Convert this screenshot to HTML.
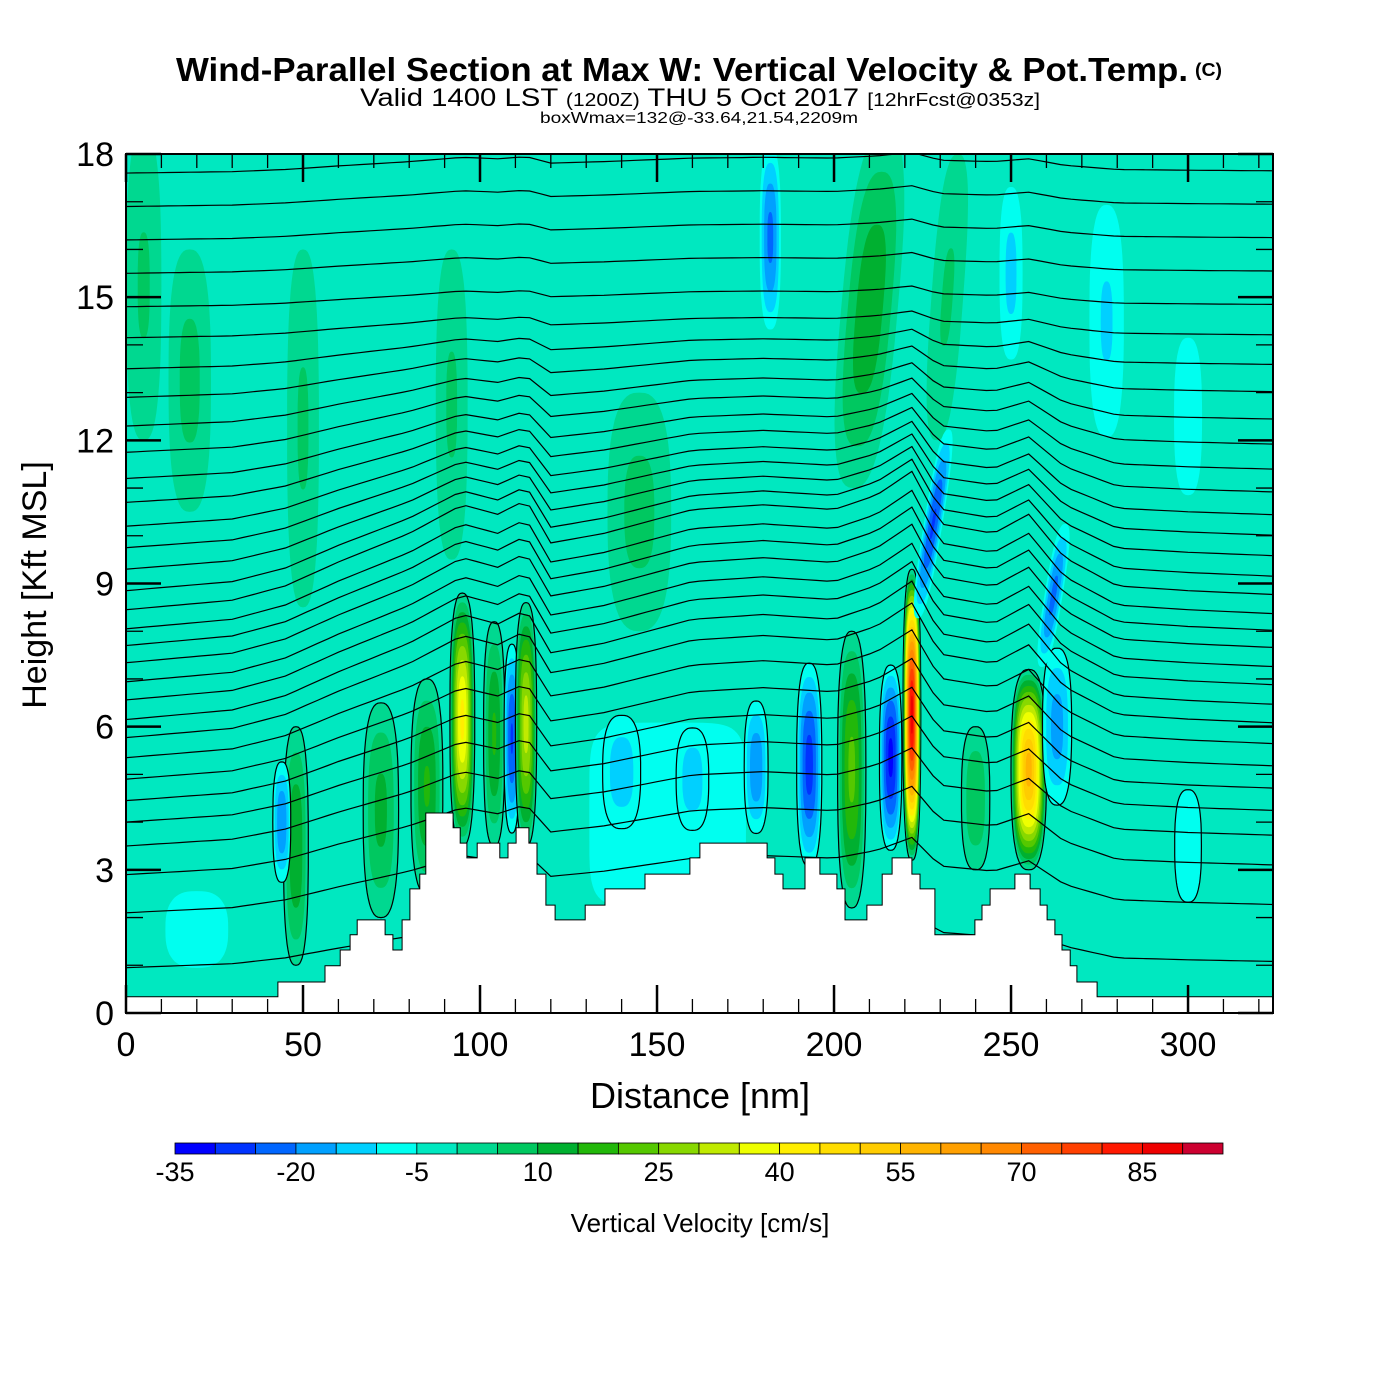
<!DOCTYPE html>
<html><head><meta charset="utf-8"><style>
html,body{margin:0;padding:0;background:#fff;}
svg{display:block;font-family:"Liberation Sans",sans-serif;}
</style></head><body>
<svg id="chart" width="1400" height="1400" viewBox="0 0 1400 1400" xmlns="http://www.w3.org/2000/svg">
<defs><clipPath id="pc"><rect x="126" y="154" width="1147" height="859"/></clipPath></defs>
<text x="176" y="81" font-size="33" font-weight="bold" textLength="1012" lengthAdjust="spacingAndGlyphs">Wind-Parallel Section at Max W: Vertical Velocity &amp; Pot.Temp.</text>
<text x="1195" y="76" font-size="18" font-weight="bold" textLength="27" lengthAdjust="spacingAndGlyphs">(C)</text>
<text x="360" y="106" font-size="25" textLength="680" lengthAdjust="spacingAndGlyphs">Valid 1400 LST <tspan font-size="18">(1200Z)</tspan> THU 5 Oct 2017 <tspan font-size="18">[12hrFcst@0353z]</tspan></text>
<text x="540" y="123" font-size="16" textLength="318" lengthAdjust="spacingAndGlyphs">boxWmax=132@-33.64,21.54,2209m</text>
<g id="plot" clip-path="url(#pc)"></g>
<g id="axes"></g>
<g id="cbar"></g>
<text x="700" y="1108" font-size="36" text-anchor="middle">Distance [nm]</text>
<text transform="translate(46,585) rotate(-90)" font-size="34" text-anchor="middle">Height [Kft MSL]</text>
<text x="700" y="1232" font-size="26" text-anchor="middle">Vertical Velocity [cm/s]</text>
</svg>
<script>
// ---- data ----
const cbLevels=[-35,-30,-25,-20,-15,-10,-5,0,5,10,15,20,25,30,35,40,45,50,55,60,65,70,75,80,85,90];
const cbColors=['#0000ff','#0033ff','#0066ff','#00a0ff','#00d0ff','#00fff0','#00e8c0','#00d890','#00c860','#00b030','#22b80a','#55c800','#88d800','#c0ea00','#eeff00','#ffee00','#ffdd00','#ffcc00','#ffb400','#ffa000','#ff8800','#ff6000','#ff4000','#ff1800','#ee0000','#cc0030'];
const cbTicks=[-35,-20,-5,10,25,40,55,70,85];
const xTicks=[0,50,100,150,200,250,300];
const yTicks=[0,3,6,9,12,15,18];
// terrain step function (nm edges, kft heights)
const terrX=[0,42.9,56.2,60.5,63.3,65.3,73.2,75.4,78,80.2,83,84.7,92.4,94.4,96.3,99.2,105.6,107.9,110.2,113.8,116.1,118.6,121.2,129.7,135.3,146.6,159.3,162.1,181.1,183.3,185.6,191.8,196,200.8,203.1,209.3,213.6,216.4,222,224.3,228.5,239.8,241.8,244.1,251.1,255.4,258.2,260.2,262.4,264.4,266.7,268.6,274.3,330];
const terrH=[0.34,0.65,0.99,1.32,1.64,1.95,1.64,1.32,1.95,2.6,2.91,4.19,3.88,3.56,3.25,3.56,3.25,3.56,3.88,3.56,2.91,2.26,1.95,2.26,2.6,2.91,3.25,3.56,3.25,2.91,2.6,3.25,2.91,2.6,1.95,2.26,2.91,3.25,2.91,2.6,1.64,1.95,2.26,2.6,2.91,2.6,2.26,1.95,1.64,1.32,0.99,0.65,0.34];
// vertical velocity cells: centre nm, half-width nm, bottom kft, top kft, peak cm/s, tilt nm/kft
const cellX=[153,20,5,18,50,92,145,210,182,232,250,277,300,48,44,72,85,140,160,178,95,104,109,113,193,205,216,222,255,263,228,262,300,240];
const cellW=[36,16,5,6,4.5,4.5,9,8,3.5,4.5,4.5,7,6,3.5,3,5,4.5,7,6,4,3.5,3,2.5,3,4,4,3.5,2.5,5,5,3,3,8,4];
const cellB=[1,0.3,12,10.5,8.5,9.5,8,11,14,12,13,11,10,1,2.5,2,2.5,3.5,3.5,3.5,3.5,3.5,3.5,3.5,2.8,2.2,3.2,3.2,3,4,8,7,1,3];
const cellT=[7.3,3.2,18.5,16,16,16,13,18.5,18.5,18,18,18,15,6,5.5,6.5,7,6.6,6.3,6.8,8.8,8.2,8,8.6,7.6,8,7.5,9.3,7.2,8,12.5,10.5,6,6];
const cellV=[-9,-8,6,7,6,6,7,14,-22,6,-12,-11,-10,15,-20,12,16,-14,-14,-20,42,16,-26,33,-28,22,-32,88,58,-18,-26,-22,-7,10];
const cellTilt=[0,0,0,0,0,0,0,1.2,0,1,0,0,0,0,0,0,0,0,0,0,0,0,0,0,0,0,0,0,0,0,2.2,2.2,0,0];
// potential-temperature contours: height at left edge, and displacement profile
const thetaBase=[0.95,2.1,2.9,3.5,4.0,4.45,4.9,5.35,5.77,6.15,6.56,6.94,7.34,7.7,8.05,8.45,8.85,9.3,9.75,10.2,10.7,11.2,11.75,12.3,12.9,13.5,14.15,14.8,15.5,16.2,16.9,17.6,18.3];
const dispX=[0,30,45,60,80,95,105,113,120,135,160,180,200,212,222,230,245,255,265,280,300,330];
const dispD=[0,0.2,0.5,1.0,1.6,2.2,2.0,2.3,1.4,1.6,2.1,2.2,2.1,2.4,2.9,1.8,1.6,2.0,1.1,0.5,0.4,0.3];

// ---- axes functions ----
const X0=126,X1=1273,Y0=1013,Y1=154,XMAX=324,YMAX=18;
const sx=d=>X0+d/XMAX*(X1-X0);
const sy=h=>Y0-h/YMAX*(Y0-Y1);
const NS='http://www.w3.org/2000/svg';
function mk(tag,attrs,parent){const e=document.createElementNS(NS,tag);for(const k in attrs)e.setAttribute(k,attrs[k]);parent.appendChild(e);return e;}
function colorFor(v){let i=Math.floor((v+35)/5);i=Math.max(0,Math.min(cbColors.length-1,i));return cbColors[i];}
const sp=(t,e)=>Math.sign(t)*Math.pow(Math.abs(t),e);

const plot=document.getElementById('plot');
const bg=mk('rect',{x:X0,y:Y1,width:X1-X0,height:Y0-Y1,fill:cbColors[6]},plot);



// cells
for(let c=0;c<cellX.length;c++){
  const p=cellV[c];const zc=(cellB[c]+cellT[c])/2,hz=(cellT[c]-cellB[c])/2;
  const bands=[];
  if(p>0){for(let L=0;L<p;L+=5)bands.push(L);}else{for(let U=-5;U>p;U-=5)bands.push(U);}
  const g=mk('g',{},plot);
  
  
  const ex=c===0?0.35:0.75;
  bands.forEach((L,bi)=>{
    const s=Math.pow(1-L/p,0.6);
    let pts=[];
    for(let k=0;k<64;k++){const a=k/64*Math.PI*2;const z=zc+s*hz*sp(Math.sin(a),ex);const x=cellX[c]+s*cellW[c]*sp(Math.cos(a),ex)+cellTilt[c]*(z-zc);pts.push(sx(x).toFixed(1)+','+sy(z).toFixed(1));}
    const col=p>0?colorFor(L+0.1):colorFor(L-0.1);
    const attrs={points:pts.join(' '),fill:col};
    if(bi===0&&cellB[c]<5&&c>1){attrs.stroke='#000';attrs['stroke-width']=1.2;}
    mk('polygon',attrs,g);
  });
}

// theta contours
function disp(x){for(let i=0;i<dispX.length-1;i++){if(x<=dispX[i+1]){const t=(x-dispX[i])/(dispX[i+1]-dispX[i]);return dispD[i]+t*(dispD[i+1]-dispD[i]);}}return dispD[dispD.length-1];}
function wt(h){if(h<6)return 0.3+0.7*h/6;if(h<8.5)return 1;return Math.max(0.15,1-(h-8.5)/7);}
const cg=mk('g',{fill:'none',stroke:'#000','stroke-width':1.2},plot);


thetaBase.forEach(h=>{
  let d='';
  for(let x=0;x<=XMAX;x+=3){const y=h+disp(x)*wt(h);d+=(x?'L':'M')+sx(x).toFixed(1)+','+sy(y).toFixed(1);}
  const l=mk('path',{d:d},cg);
  
  
});

// terrain
let td='M'+sx(0)+','+sy(0);
for(let i=0;i<terrH.length;i++){td+='L'+sx(terrX[i]).toFixed(1)+','+sy(terrH[i]).toFixed(1)+'L'+sx(terrX[i+1]).toFixed(1)+','+sy(terrH[i]).toFixed(1);}
td+='L'+sx(330)+','+sy(0)+'Z';
const terr=mk('path',{d:td,fill:'#fff',stroke:'#000','stroke-width':1},plot);



// axes
const ax=document.getElementById('axes');
const fr=mk('rect',{x:X0,y:Y1,width:X1-X0,height:Y0-Y1,fill:'none',stroke:'#000','stroke-width':2},ax);


for(let v=0;v<=XMAX;v+=10){const big=v%50===0;const L=big?28:14;const x=sx(v);
  mk('line',{x1:x,y1:Y0,x2:x,y2:Y0-L,stroke:'#000','stroke-width':big?2.5:1.3},ax);
  mk('line',{x1:x,y1:Y1,x2:x,y2:Y1+L,stroke:'#000','stroke-width':big?2.5:1.3},ax);}
for(let v=0;v<=YMAX;v+=1){const big=v%3===0;const L=big?35:17;const y=sy(v);
  mk('line',{x1:X0,y1:y,x2:X0+L,y2:y,stroke:'#000','stroke-width':big?2.5:1.3},ax);
  mk('line',{x1:X1,y1:y,x2:X1-L,y2:y,stroke:'#000','stroke-width':big?2.5:1.3},ax);}
xTicks.forEach(v=>{const t=mk('text',{x:sx(v),y:1056,'font-size':34,'text-anchor':'middle'},ax);t.textContent=v;
  
  });
yTicks.forEach(v=>{const t=mk('text',{x:114,y:sy(v)+12,'font-size':34,'text-anchor':'end'},ax);t.textContent=v;
  
  });

// colorbar
const cb=document.getElementById('cbar');
const CB0=175,CB1=1223,bw=(CB1-CB0)/cbColors.length;
cbColors.forEach((c,i)=>{const r=mk('rect',{x:CB0+i*bw,y:1143,width:bw,height:11,fill:c,stroke:'#000','stroke-width':0.8},cb);
  
  });
cbTicks.forEach(v=>{const i=cbLevels.indexOf(v);const t=mk('text',{x:CB0+i*bw,y:1181,'font-size':27,'text-anchor':'middle'},cb);t.textContent=v;
  
  });
</script>
</body></html>
